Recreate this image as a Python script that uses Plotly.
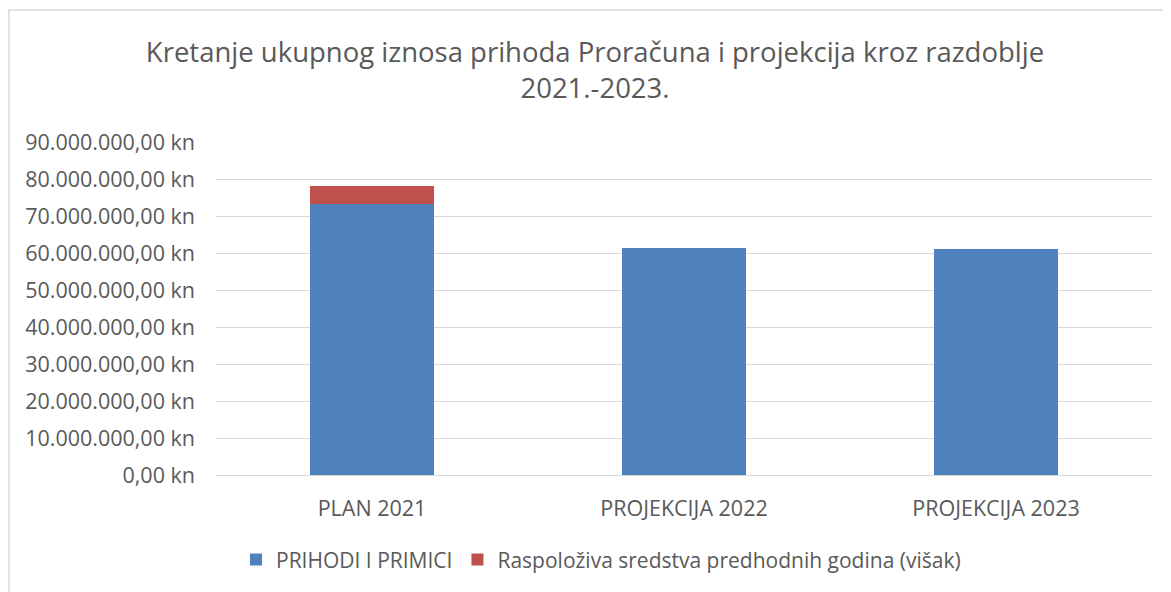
import plotly.graph_objects as go

categories = ["PLAN 2021", "PROJEKCIJA 2022", "PROJEKCIJA 2023"]
prihodi = [73200000, 61450000, 61200000]
visak = [4780000, 0, 0]
y_ticks = [0, 10000000, 20000000, 30000000, 40000000, 50000000, 60000000, 70000000, 80000000, 90000000]
y_tick_labels = ["0,00 kn"] + [f"{v // 1000000}.000.000,00 kn" for v in y_ticks[1:]]

font_family = "Open Sans"
grey = "#595959"

W, H = 1171, 592
L, R, T, B = 208, 27, 134, 125
plot_w = W - L - R
plot_h = H - T - B

fig = go.Figure()
fig.add_trace(go.Bar(
    x=categories, y=prihodi,
    name="PRIHODI I PRIMICI",
    marker=dict(color="#4f81bd", line=dict(width=0)),
))
fig.add_trace(go.Bar(
    x=categories, y=visak,
    name="Raspoloživa sredstva predhodnih godina (višak)",
    marker=dict(color="#c0504d", line=dict(width=0)),
))

# okvir grafikona (vidi se samo lijevi i gornji rub)
fig.add_shape(type="rect", xref="paper", yref="paper",
              x0=(1 - L) / plot_w, x1=1.2,
              y0=-0.6, y1=(plot_h + T - 2) / plot_h,
              line=dict(color="#d9d9d9", width=1.5))

fig.update_layout(
    barmode="stack",
    bargap=0.6,
    width=W, height=H,
    margin=dict(l=L, r=R, t=T, b=B),
    paper_bgcolor="white",
    plot_bgcolor="white",
    font=dict(family=font_family, color=grey),
    title=dict(
        text="Kretanje ukupnog iznosa prihoda Proračuna i projekcija kroz razdoblje<br>2021.-2023.",
        x=(595 - 8) / W, xanchor="center", y=1 - 54 / H, yanchor="middle",
        font=dict(size=27.5, color=grey, family=font_family),
    ),
    legend=dict(
        orientation="h", x=(593 - L) / plot_w, xanchor="center",
        y=-0.255, yanchor="middle",
        font=dict(size=21, color=grey), traceorder="normal",
        itemwidth=30,
    ),
    showlegend=True,
)
fig.update_yaxes(
    range=[0, 90000000],
    tickvals=y_ticks, ticktext=y_tick_labels,
    showgrid=True, gridcolor="#d9d9d9", gridwidth=1,
    zeroline=True, zerolinecolor="#d9d9d9", zerolinewidth=1,
    tickfont=dict(size=21.5, color=grey),
    ticks="", ticklabelstandoff=20,
)
fig.update_xaxes(
    tickfont=dict(size=21.5, color=grey),
    showline=False, ticks="", ticklabelstandoff=18,
)

fig.write_html("out.html")
